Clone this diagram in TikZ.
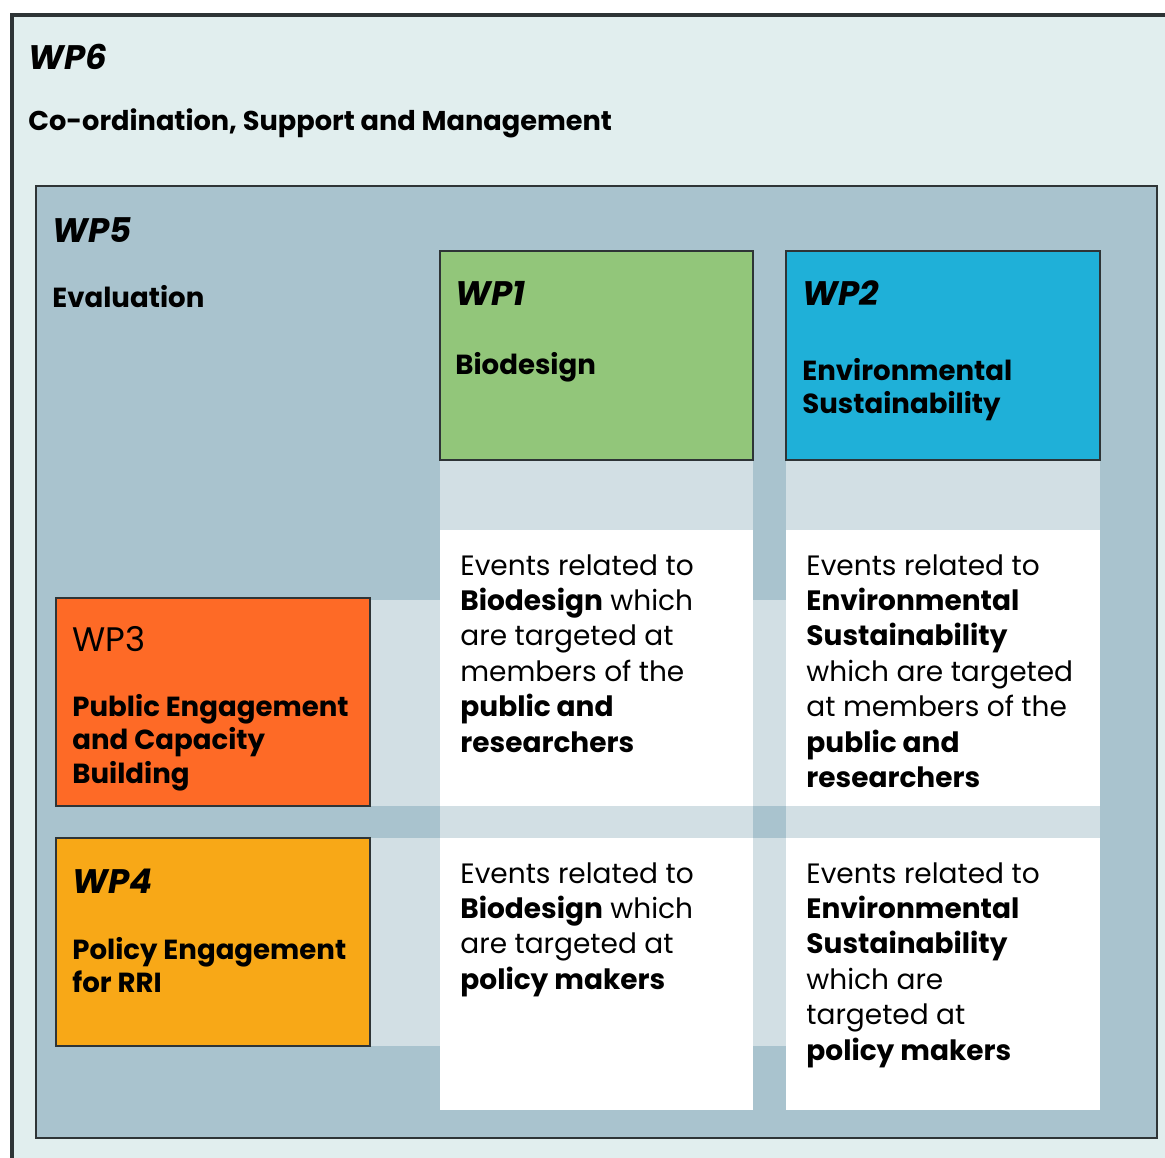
\documentclass[tikz,border=0pt]{standalone}
\usepackage{fontspec}
\setmainfont{Poppins}
\usetikzlibrary{calc}
\definecolor{wpsixfill}{HTML}{E1EEEE}
\definecolor{wpfivefill}{HTML}{A9C3CE}
\definecolor{bandfill}{HTML}{D2DFE4}
\definecolor{wponefill}{HTML}{92C67A}
\definecolor{wptwofill}{HTML}{1FB0D8}
\definecolor{wpthreefill}{HTML}{FE6A26}
\definecolor{wpfourfill}{HTML}{F8A817}
\definecolor{edgecol}{HTML}{2E3436}
\tikzset{
  wpbox/.style={draw=edgecol, line width=1.1pt},
  wptag/.style={anchor=base west, inner sep=0pt, font=\fontsize{17}{20}\selectfont\bfseries\itshape},
  wpname/.style={anchor=base west, inner sep=0pt, font=\fontsize{13.8}{16.75}\selectfont\bfseries},
  wplines/.style={anchor=north west, inner sep=0pt, align=left, font=\fontsize{13.8}{16.75}\selectfont\bfseries, execute at begin node=\strut},
  celltext/.style={anchor=north west, inner sep=0pt, align=left, font=\fontsize{14}{17.7}\selectfont, execute at begin node=\strut},
}

\begin{document}
\begin{tikzpicture}[x=0.5pt, y=-0.5pt]
		%%%%% START %%%%%
		\useasboundingbox (0, 0) rectangle (1165, 1157);
		
		% WP6 frame, runs off the page right and below
		\draw[wpbox, line width=1.6pt, fill=wpsixfill] (12, 15) rectangle (1180, 1175);
		\node[wptag] (wp6) at (28, 69) {WP6};
		\node[wpname, font=\fontsize{13.6}{16}\selectfont\bfseries] (wp6name) at (28, 130) {Co-ordination, Support and Management};
		
		% WP5 frame
		\draw[wpbox, fill=wpfivefill] (36, 186) rectangle (1157, 1138);
		\node[wptag] (wp5) at (52, 242) {WP5};
		\node[wpname] (wp5name) at (52, 307) {Evaluation};
		
		% light bands
		\fill[bandfill] (440, 460) rectangle (753, 1110);
		\fill[bandfill] (786, 460) rectangle (1100, 1110);
		\fill[bandfill] (370, 600) rectangle (1100, 806);
		\fill[bandfill] (370, 838) rectangle (1100, 1046);
		
		% white cells
		\fill[white] (440, 530) rectangle (753, 806);
		\fill[white] (786, 530) rectangle (1100, 806);
		\fill[white] (440, 838) rectangle (753, 1110);
		\fill[white] (786, 838) rectangle (1100, 1110);
		
		% WP1 .. WP4
		\draw[wpbox, fill=wponefill] (440, 251) rectangle (753, 460);
		\node[wptag] (wp1) at (455, 305) {WP1};
		\node[wpname] (wp1name) at (455, 374) {Biodesign};
		
		\draw[wpbox, fill=wptwofill] (786, 251) rectangle (1100, 460);
		\node[wptag] (wp2) at (802, 305) {WP2};
		\node[wplines] (wp2name) at (802, 357.5) {Environmental\\Sustainability};
		
		\draw[wpbox, fill=wpthreefill] (56, 598) rectangle (370, 806);
		\node[wptag, font=\fontsize{17}{20}\selectfont] (wp3) at (72, 651) {WP3};
		\node[wplines] (wp3name) at (72, 693.5) {Public Engagement\\and Capacity\\Building};
		
		\draw[wpbox, fill=wpfourfill] (56, 838) rectangle (370, 1046);
		\node[wptag] (wp4) at (72, 893) {WP4};
		\node[wplines] (wp4name) at (72, 936.5) {Policy Engagement\\for RRI};
		
		% cell texts
		\node[celltext] (bio-pub) at (460, 554) {Events related to\\\textbf{Biodesign} which\\are targeted at\\members of the\\\textbf{public and}\\\textbf{researchers}};
		\node[celltext] (env-pub) at (806, 554) {Events related to\\\textbf{Environmental}\\\textbf{Sustainability}\\which are targeted\\at members of the\\\textbf{public and}\\\textbf{researchers}};
		\node[celltext] (bio-pol) at (460, 862) {Events related to\\\textbf{Biodesign} which\\are targeted at\\\textbf{policy makers}};
		\node[celltext] (env-pol) at (806, 862) {Events related to\\\textbf{Environmental}\\\textbf{Sustainability}\\which are\\targeted at\\\textbf{policy makers}};
		
		%%%%% END %%%%%
	\end{tikzpicture}
\end{document}
